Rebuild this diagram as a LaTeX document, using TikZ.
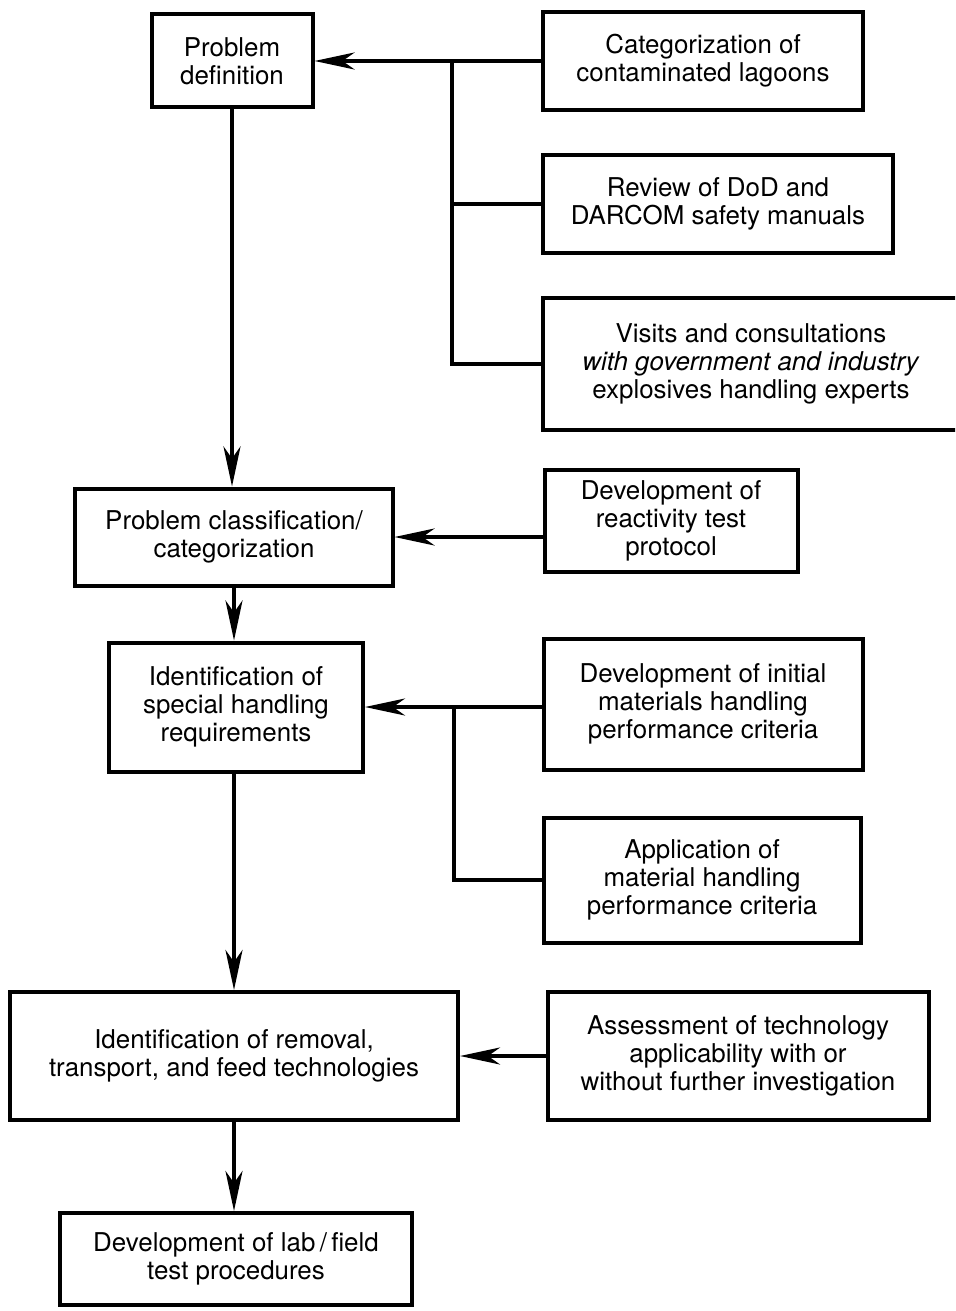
\documentclass[tikz,border=0pt]{standalone}
\usepackage{fontspec}
\setmainfont{TeX Gyre Heros}
\usetikzlibrary{arrows.meta}
\begin{document}
\begin{tikzpicture}[x=1bp,y=-1bp,
  box/.style={draw, line width=4bp, align=center, inner sep=0pt,
    font=\fontsize{26}{28}\selectfont},
  conn/.style={line width=4bp},
  arr/.style={conn, -{Stealth[length=40bp,width=17bp,inset=12bp]}}]
\clip (0,0) rectangle (955,1311);
\fill[white] (0,0) rectangle (955,1311);
% main column
\node[box, minimum width=161bp, minimum height=93bp] (pd) at (232,61) {Problem\\definition};
\node[box, minimum width=317bp, minimum height=97bp] (pc) at (234,537) {Problem classification/\\categorization};
\node[box, minimum width=254bp, minimum height=129bp] (ish) at (236,707) {Identification of\\special handling\\requirements};
\node[box, minimum width=448bp, minimum height=128bp] (rem) at (234,1056) {Identification of removal,\\transport, and feed technologies};
\node[box, minimum width=351bp, minimum height=92bp] (lab) at (236,1259) {Development of lab\,/\,field\\test procedures};
% right column
\node[box, minimum width=320bp, minimum height=98bp] (cat) at (703,61) {Categorization of\\contaminated lagoons};
\node[box, minimum width=350bp, minimum height=98bp] (rev) at (718,204) {Review of DoD and\\DARCOM safety manuals};
\node[box, minimum width=416bp, minimum height=132bp] (vis) at (751,364) {Visits and consultations\\\textit{with government and industry}\\explosives handling experts};
\node[box, minimum width=253bp, minimum height=102bp] (rt) at (671,521) {Development of\\reactivity test\\protocol};
\node[box, minimum width=319bp, minimum height=131bp] (din) at (703,704) {Development of initial\\materials handling\\performance criteria};
\node[box, minimum width=317bp, minimum height=125bp] (app) at (702,880) {Application of\\material handling\\performance criteria};
\node[box, minimum width=381bp, minimum height=128bp] (ass) at (738,1056) {Assessment of technology\\applicability with or\\without further investigation};
% junction points
\coordinate (j1) at (452,61);
\coordinate (j2) at (454,707);
% connectors
\draw[arr] (cat.west) -- (pd.east);
\draw[conn] (rev.west) -- (rev.west -| j1);
\draw[conn] (vis.west) -| (j1);
\draw[arr] (rt.west |- pc.east) -- (pc.east);
\draw[arr] (din.west |- ish.east) -- (ish.east);
\draw[conn] (app.west) -| (j2);
\draw[arr] (ass.west |- rem.east) -- (rem.east);
\draw[arr] (pd.south) -- (pd.south |- pc.north);
\draw[arr] (pc.south) -- (pc.south |- ish.north);
\draw[arr] (ish.south -| pc.south) -- (pc.south |- rem.north);
\draw[arr] (rem.south) -- (rem.south |- lab.north);
\end{tikzpicture}
\end{document}
